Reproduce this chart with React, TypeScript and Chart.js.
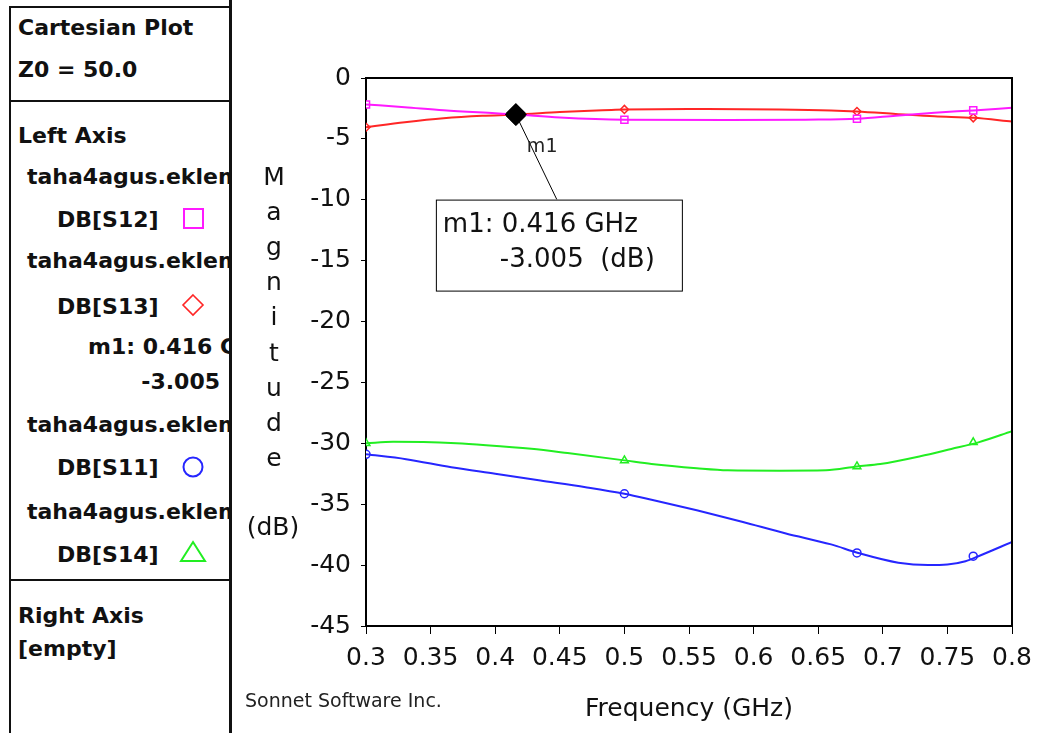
import React, { useEffect, useRef } from "react";
import { Chart, registerables } from "chart.js";

Chart.register(...registerables);

// ---- data ----
const s12Freq = [0.3, 0.33, 0.36, 0.4, 0.416, 0.45, 0.5, 0.58, 0.64, 0.68, 0.71, 0.74, 0.77, 0.8];
const s12Db = [-2.17, -2.4, -2.65, -2.9, -3.0, -3.25, -3.43, -3.45, -3.42, -3.35, -3.1, -2.85, -2.66, -2.45];

const s13Freq = [0.3, 0.33, 0.36, 0.39, 0.416, 0.45, 0.49, 0.5, 0.56, 0.62, 0.66, 0.68, 0.71, 0.74, 0.77, 0.8];
const s13Db = [-4.04, -3.63, -3.3, -3.1, -3.005, -2.8, -2.62, -2.58, -2.55, -2.58, -2.66, -2.75, -2.95, -3.15, -3.27, -3.57];

const s11Freq = [0.3, 0.331, 0.366, 0.4, 0.435, 0.47, 0.5, 0.521, 0.556, 0.591, 0.625, 0.66, 0.681, 0.712, 0.735, 0.75, 0.764, 0.774, 0.8];
const s11Db = [-30.9, -31.3, -31.97, -32.5, -33.05, -33.6, -34.14, -34.63, -35.5, -36.44, -37.4, -38.3, -39.0, -39.8, -40.0, -39.95, -39.68, -39.27, -38.1];

const s14Freq = [0.3, 0.321, 0.37, 0.393, 0.428, 0.456, 0.5, 0.521, 0.556, 0.58, 0.62, 0.656, 0.68, 0.698, 0.729, 0.753, 0.774, 0.8];
const s14Db = [-30.0, -29.88, -30.0, -30.15, -30.45, -30.8, -31.4, -31.7, -32.05, -32.22, -32.25, -32.22, -31.9, -31.7, -31.06, -30.46, -29.92, -29.0];

const markerFreq = [0.3, 0.5, 0.68, 0.77];
const s12Markers = [-2.17, -3.43, -3.35, -2.66];
const s13Markers = [-4.04, -2.58, -2.75, -3.27];
const s11Markers = [-30.9, -34.14, -39.0, -39.27];
const s14Markers = [-30.0, -31.4, -31.9, -29.92];

const m1Freq = [0.416];
const m1Db = [-3.005];

const yLabelLetters = ["M", "a", "g", "n", "i", "t", "u", "d", "e"];

const COLORS = {
  s12: "#ff1aff",
  s13: "#ff2626",
  s11: "#2626ff",
  s14: "#22ee22",
};

const pts = (xs: number[], ys: number[]) => xs.map((x, i) => ({ x, y: ys[i] }));

const CHART_FONT = "'DejaVu Sans', sans-serif";

const decorPlugin = {
  id: "decor",
  afterDraw(chart: any) {
    const { ctx, chartArea, scales } = chart;
    ctx.save();
    // frame top & right
    ctx.strokeStyle = "#000";
    ctx.lineWidth = 2;
    ctx.beginPath();
    ctx.moveTo(chartArea.left, chartArea.top);
    ctx.lineTo(chartArea.right, chartArea.top);
    ctx.lineTo(chartArea.right, chartArea.bottom);
    ctx.stroke();

    // stacked y label
    ctx.fillStyle = "#111";
    ctx.font = `25px ${CHART_FONT}`;
    ctx.textAlign = "center";
    ctx.textBaseline = "alphabetic";
    yLabelLetters.forEach((ch, i) => {
      ctx.fillText(ch, 43, 185 + i * 35.1);
    });
    ctx.fillText("(dB)", 42, 535);

    // Sonnet text
    ctx.font = `19px ${CHART_FONT}`;
    ctx.textAlign = "left";
    ctx.fillStyle = "#222";
    ctx.fillText("Sonnet Software Inc.", 14, 707);

    // marker annotation
    const px = scales.x.getPixelForValue(m1Freq[0]);
    const py = scales.y.getPixelForValue(m1Db[0]);
    ctx.strokeStyle = "#000";
    ctx.lineWidth = 1;
    ctx.beginPath();
    ctx.moveTo(px, py);
    ctx.lineTo(px + 41, py + 85);
    ctx.stroke();
    ctx.fillStyle = "#fff";
    ctx.fillRect(px - 80, py + 85, 246, 91);
    ctx.strokeRect(px - 80 + 0.5, py + 85 + 0.5, 246, 91);
    ctx.fillStyle = "#111";
    ctx.font = `26px ${CHART_FONT}`;
    ctx.fillText("m1: 0.416 GHz", px - 73, py + 117);
    ctx.fillText("-3.005  (dB)", px - 16, py + 152);
    ctx.font = `19px ${CHART_FONT}`;
    ctx.fillStyle = "#222";
    ctx.fillText("m1", px + 11, py + 37);

    // redraw the marker diamond on top
    ctx.fillStyle = "#000";
    ctx.beginPath();
    ctx.moveTo(px, py - 11);
    ctx.lineTo(px + 11, py);
    ctx.lineTo(px, py + 11);
    ctx.lineTo(px - 11, py);
    ctx.closePath();
    ctx.fill();
    ctx.restore();
  },
};

function ChartCanvas() {
  const ref = useRef<HTMLCanvasElement | null>(null);
  useEffect(() => {
    if (!ref.current) return;
    const lineDs = (data: any, color: string) => ({
      data,
      borderColor: color,
      backgroundColor: color,
      borderWidth: 2,
      pointRadius: 0,
      tension: 0.4,
      cubicInterpolationMode: "monotone" as const,
    });
    const markDs = (data: any, color: string, style: string, radius: number) => ({
      data,
      showLine: false,
      borderColor: color,
      backgroundColor: "#fff",
      borderWidth: 1.5,
      pointStyle: style,
      pointRadius: radius,
    });
    const chart = new Chart(ref.current, {
      type: "line",
      data: {
        datasets: [
          lineDs(pts(s12Freq, s12Db), COLORS.s12),
          lineDs(pts(s13Freq, s13Db), COLORS.s13),
          lineDs(pts(s11Freq, s11Db), COLORS.s11),
          lineDs(pts(s14Freq, s14Db), COLORS.s14),
          markDs(pts(markerFreq, s12Markers), COLORS.s12, "rect", 5),
          markDs(pts(markerFreq, s13Markers), COLORS.s13, "rectRot", 4),
          markDs(pts(markerFreq, s11Markers), COLORS.s11, "circle", 4),
          markDs(pts(markerFreq, s14Markers), COLORS.s14, "triangle", 4.5),
          {
            data: pts(m1Freq, m1Db),
            showLine: false,
            pointStyle: "rectRot",
            pointRadius: 11,
            backgroundColor: "#000",
            borderColor: "#000",
          } as any,
        ] as any,
      },
      options: {
        responsive: false,
        animation: false,
        events: [],
        layout: { padding: { top: 78, right: 31, left: 0, bottom: 0 } },
        plugins: { legend: { display: false }, tooltip: { enabled: false } },
        scales: {
          x: {
            type: "linear",
            min: 0.3,
            max: 0.8,
            afterFit: (s: any) => {
              s.height = 107;
            },
            border: { color: "#000", width: 2 },
            grid: { drawOnChartArea: false, drawTicks: true, tickLength: 8, color: "#000" },
            ticks: {
              stepSize: 0.05,
              autoSkip: false,
              maxRotation: 0,
              padding: 9,
              color: "#111",
              font: { family: CHART_FONT, size: 25 },
              callback: (v: any) => String(Math.round(Number(v) * 100) / 100),
            },
            title: {
              display: true,
              text: "Frequency (GHz)",
              color: "#111",
              font: { family: CHART_FONT, size: 25 },
              padding: { top: 0, bottom: 9 },
            },
          },
          y: {
            type: "linear",
            min: -45,
            max: 0,
            afterFit: (s: any) => {
              s.width = 135;
            },
            border: { color: "#000", width: 2 },
            grid: { drawOnChartArea: false, drawTicks: true, tickLength: 5, color: "#000" },
            ticks: {
              stepSize: 5,
              padding: 10,
              color: "#111",
              font: { family: CHART_FONT, size: 25 },
              callback: (v: any) => String(v),
            },
          },
        },
      } as any,
      plugins: [decorPlugin],
    });
    return () => chart.destroy();
  }, []);
  return (
    <canvas
      ref={ref}
      width={812}
      height={733}
      style={{ position: "absolute", left: 231, top: 0, width: 812, height: 733 }}
    />
  );
}

const PANEL_FONT = "'DejaVu Sans', sans-serif";

function Row({ text, x, baseline, right }: { text: string; x: number; baseline: number; right?: boolean }) {
  const style: any = {
    position: "absolute",
    top: baseline - 18.6,
    fontFamily: PANEL_FONT,
    fontWeight: "bold",
    fontSize: 22,
    lineHeight: "22px",
    whiteSpace: "nowrap",
    color: "#111",
  };
  if (right) style.right = 240 - x;
  else style.left = x;
  return <div style={style}>{text}</div>;
}

function LeftPanel() {
  return (
    <div style={{ position: "absolute", left: 0, top: 0, width: 231, height: 733 }}>
      <div
        style={{
          position: "absolute",
          left: 9,
          top: 6,
          width: 218,
          height: 740,
          border: "2px solid #111",
          overflow: "hidden",
        }}
      >
        <div style={{ position: "absolute", left: -11, top: -8, width: 240, height: 760 }}>
          <Row text="Cartesian Plot" x={18} baseline={36} />
          <Row text="Z0 = 50.0" x={18} baseline={78} />
          <div style={{ position: "absolute", left: 0, top: 100, width: 240, height: 2, background: "#111" }} />
          <Row text="Left Axis" x={18} baseline={144} />
          <Row text="taha4agus.eklem" x={27} baseline={185} />
          <Row text="DB[S12]" x={57} baseline={228} />
          <Row text="taha4agus.eklem" x={27} baseline={269} />
          <Row text="DB[S13]" x={57} baseline={315} />
          <Row text="m1: 0.416 GHz" x={88} baseline={355} />
          <Row text="-3.005" x={220} baseline={390} right />
          <Row text="taha4agus.eklem" x={27} baseline={433} />
          <Row text="DB[S11]" x={57} baseline={476} />
          <Row text="taha4agus.eklem" x={27} baseline={520} />
          <Row text="DB[S14]" x={57} baseline={563} />
          <div style={{ position: "absolute", left: 0, top: 579, width: 240, height: 2, background: "#111" }} />
          <Row text="Right Axis" x={18} baseline={624} />
          <Row text="[empty]" x={18} baseline={657} />
          <svg style={{ position: "absolute", left: 0, top: 0 }} width={240} height={760}>
            <rect x={184} y={209} width={19} height={19} fill="none" stroke={COLORS.s12} strokeWidth={2} />
            <polygon points="193,295 203,305 193,315 183,305" fill="none" stroke={COLORS.s13} strokeWidth={1.6} />
            <circle cx={193} cy={467} r={9.5} fill="none" stroke={COLORS.s11} strokeWidth={2} />
            <polygon points="193,542 205,561 181,561" fill="none" stroke={COLORS.s14} strokeWidth={2} />
          </svg>
        </div>
      </div>
    </div>
  );
}

export default function App() {
  return (
    <div
      style={{
        position: "fixed",
        left: 0,
        top: 0,
        width: 1043,
        height: 733,
        background: "#fff",
        overflow: "hidden",
      }}
    >
      <LeftPanel />
      <div style={{ position: "absolute", left: 229, top: 0, width: 3, height: 733, background: "#111" }} />
      <ChartCanvas />
    </div>
  );
}
